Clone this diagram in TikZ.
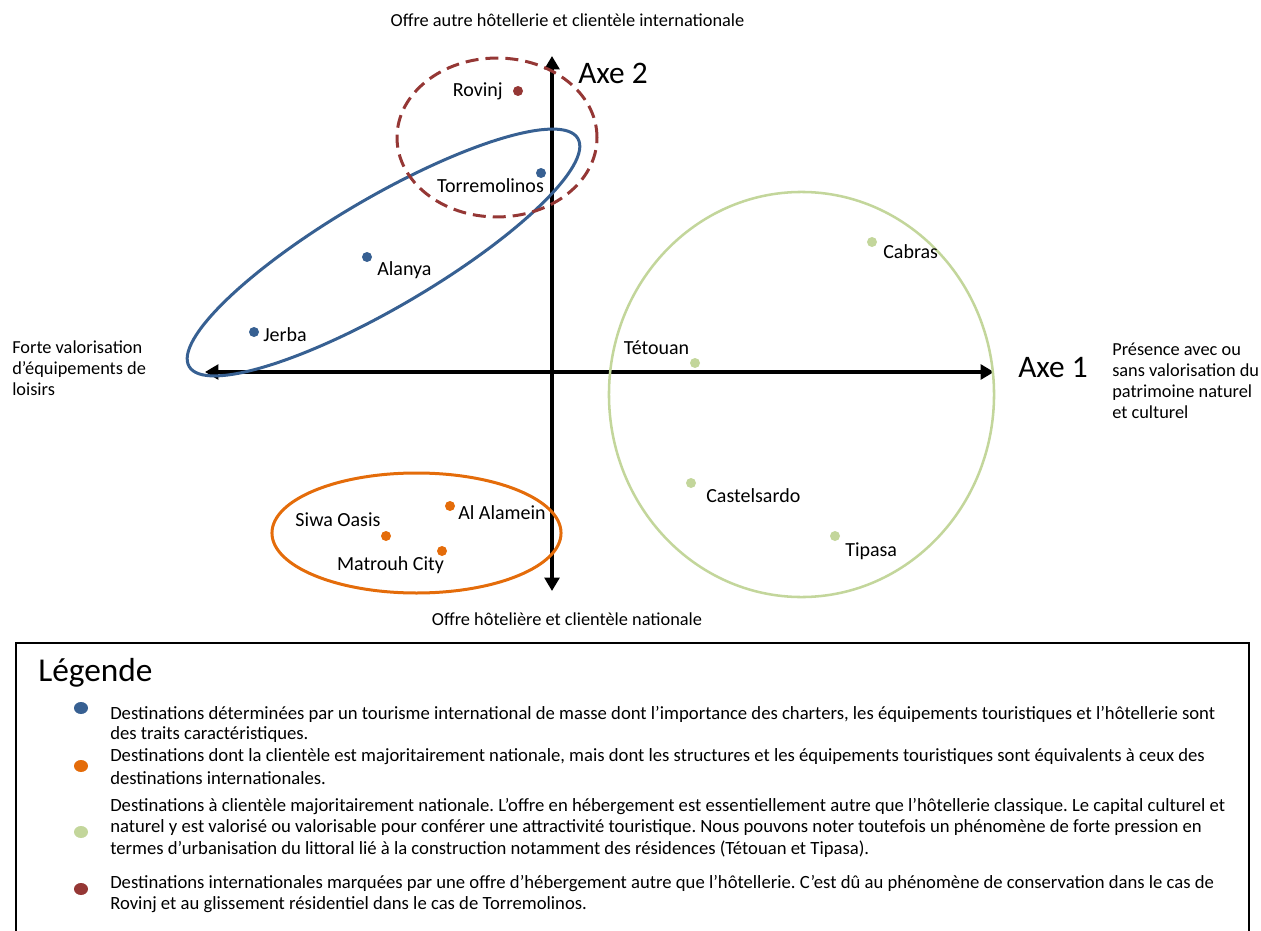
\documentclass[tikz,border=0pt]{standalone}
\usepackage{fontspec}
\setmainfont{Carlito}
\usetikzlibrary{arrows.meta,shapes.geometric}
\definecolor{cblue}{HTML}{376092}
\definecolor{corange}{HTML}{E46C0A}
\definecolor{cgreen}{HTML}{C3D69B}
\definecolor{cred}{HTML}{953735}
\begin{document}
\frenchspacing
\begin{tikzpicture}[x=0.75pt,y=-0.75pt,
  axis/.style={line width=3pt,{Triangle[length=10pt,width=11pt]}-{Triangle[length=10pt,width=11pt]}},
  dot/.style={circle,fill=#1,inner sep=0,minimum size=7.5pt},
  plabel/.style={font=\fontsize{15}{18}\selectfont,inner sep=0},
  axlabel/.style={font=\fontsize{23.5}{28}\selectfont,inner sep=0},
  desc/.style={font=\fontsize{13.75}{15.75}\selectfont,inner sep=0,align=left},
  legtext/.style={font=\fontsize{14}{16}\selectfont,inner sep=0,anchor=west},
  bullet/.style={ellipse,fill=#1,inner sep=0,minimum width=10.5pt,minimum height=9pt},
  grp/.style={line width=#1}
]
\useasboundingbox (0,0) rectangle (1261,931);

% axes
\coordinate (xl) at (205,372);
\coordinate (xr) at (994,372);
\coordinate (yt) at (552,56);
\coordinate (yb) at (552,591);
\draw[axis] (xl) -- (xr);
\draw[axis] (yb) -- (yt);

% groups
\draw[cblue,grp=2.25pt,rotate around={30.4:(383.5,252.5)}] (383.5,252.5) ellipse [x radius=169pt,y radius=41pt];
\draw[cred,grp=2.25pt,dash pattern=on 9.75pt off 5.25pt] (497,137.5) ellipse [x radius=75pt,y radius=59.6pt];
\draw[cgreen,grp=1.9pt] (801.5,394.5) ellipse [x radius=144.4pt,y radius=151.9pt];
\draw[corange,grp=2.25pt] (416.5,533) ellipse [x radius=108.4pt,y radius=45pt];

% points
\node[dot=cred] (rovinj) at (518,91) {};
\node[plabel,anchor=east] (rovinjL) at (503,91) {Rovinj};
\node[dot=cblue] (torre) at (541,173) {};
\node[plabel] (torreL) at (490.5,186) {Torremolinos};
\node[dot=cblue] (alanya) at (367,257) {};
\node[plabel,anchor=west] (alanyaL) at (377,270) {Alanya};
\node[dot=cblue] (jerba) at (254,332) {};
\node[plabel,anchor=west] (jerbaL) at (263,335) {Jerba};
\node[dot=cgreen] (tetouan) at (695,363) {};
\node[plabel] (tetouanL) at (656.5,348) {Tétouan};
\node[dot=cgreen] (cabras) at (872,242) {};
\node[plabel,anchor=west] (cabrasL) at (883,252) {Cabras};
\node[dot=cgreen] (castel) at (691,483) {};
\node[plabel,anchor=west] (castelL) at (706,496) {Castelsardo};
\node[dot=cgreen] (tipasa) at (835,536) {};
\node[plabel,anchor=west] (tipasaL) at (845,551) {Tipasa};
\node[dot=corange] (alamein) at (450,506) {};
\node[plabel,anchor=west] (alameinL) at (458,513) {Al Alamein};
\node[dot=corange] (siwa) at (386,536) {};
\node[plabel] (siwaL) at (338,520) {Siwa Oasis};
\node[dot=corange] (matrouh) at (442,551) {};
\node[plabel] (matrouhL) at (390.5,565) {Matrouh City};

% axis labels
\node[axlabel,anchor=west] (axe2) at (578,73) {Axe 2};
\node[axlabel,anchor=west] (axe1) at (1018,368) {Axe 1};
\node[desc] (top) at (567.5,20) {Offre autre hôtellerie et clientèle internationale};
\node[desc] (bottom) at (567,619) {Offre hôtelière et clientèle nationale};
\node[desc,anchor=west] (left) at (12,368) {Forte valorisation\\d’équipements de\\loisirs};
\node[desc,anchor=west] (right) at (1112,380.5) {Présence avec ou\\sans valorisation du\\patrimoine naturel\\et culturel};

% legend
\draw[line width=1.2pt] (16,643) rectangle (1249,945);
\node[font=\fontsize{25}{30}\selectfont,anchor=west,inner sep=0] (leg) at (38,673) {Légende};
\node[bullet=cblue] (b1) at (81,708) {};
\node[bullet=corange] (b2) at (81,766) {};
\node[bullet=cgreen] (b3) at (81,832) {};
\node[bullet=cred] (b4) at (81,889) {};
\node[legtext] (l1a) at (110,714) {Destinations déterminées par un tourisme international de masse dont l’importance des charters, les équipements touristiques et l’hôtellerie sont};
\node[legtext] (l1b) at (110,735) {des traits caractéristiques.};
\node[legtext] (l2a) at (110,757) {Destinations dont la clientèle est majoritairement nationale, mais dont les structures et les équipements touristiques sont équivalents à ceux des};
\node[legtext] (l2b) at (110,778) {destinations internationales.};
\node[legtext] (l3a) at (110,807) {Destinations à clientèle majoritairement nationale. L’offre en hébergement est essentiellement autre que l’hôtellerie classique. Le capital culturel et};
\node[legtext] (l3b) at (110,828) {naturel y est valorisé ou valorisable pour conférer une attractivité touristique. Nous pouvons noter toutefois un phénomène de forte pression en};
\node[legtext] (l3c) at (110,849) {termes d’urbanisation du littoral lié à la construction notamment des résidences (Tétouan et Tipasa).};
\node[legtext] (l4a) at (110,884) {Destinations internationales marquées par une offre d’hébergement autre que l’hôtellerie. C’est dû au phénomène de conservation dans le cas de};
\node[legtext] (l4b) at (110,905) {Rovinj et au glissement résidentiel dans le cas de Torremolinos.};
\end{tikzpicture}
\end{document}
